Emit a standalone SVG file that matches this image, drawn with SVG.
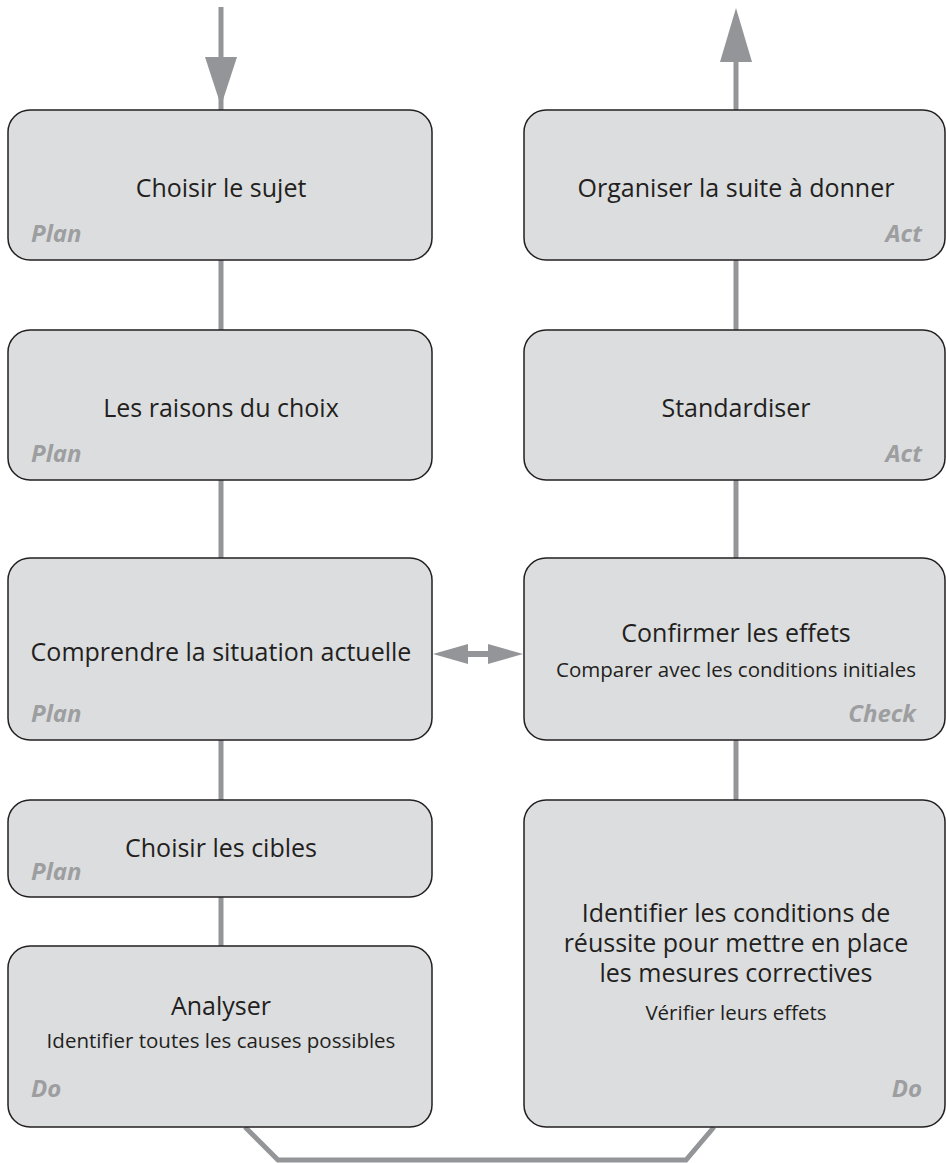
<svg xmlns="http://www.w3.org/2000/svg" width="946" height="1163" viewBox="0 0 946 1163">
<style>
.box{fill:#dcdddf;stroke:#231f20;stroke-width:1.5}
.t{font-family:"Open Sans","Liberation Sans",sans-serif;font-size:25px;fill:#231f20;text-anchor:middle}
.s{font-family:"Open Sans","Liberation Sans",sans-serif;font-size:20.5px;fill:#231f20;text-anchor:middle}
.p{font-family:"Open Sans","Liberation Sans",sans-serif;font-size:24px;font-weight:bold;font-style:italic;fill:#9d9ea0}
.r{text-anchor:end}
.ln{stroke:#939598;stroke-width:5;fill:none}
.ah{fill:#939598}
</style>
<g id="connectors">
<line class="ln" x1="221" y1="7" x2="221" y2="110"/>
<polygon class="ah" points="205,57 237,57 221,106"/>
<line class="ln" x1="221" y1="260" x2="221" y2="330"/>
<line class="ln" x1="221" y1="480" x2="221" y2="558"/>
<line class="ln" x1="221" y1="740" x2="221" y2="800"/>
<line class="ln" x1="221" y1="897" x2="221" y2="946"/>
<polyline class="ln" points="245,1127 278,1160 686,1160 714,1127"/>
<line class="ln" x1="736" y1="800" x2="736" y2="740"/>
<line class="ln" x1="736" y1="558" x2="736" y2="480"/>
<line class="ln" x1="736" y1="330" x2="736" y2="260"/>
<line class="ln" x1="736" y1="110" x2="736" y2="55"/>
<polygon class="ah" points="720,62 752,62 736,8"/>
<line class="ln" x1="466" y1="654" x2="490" y2="654" style="stroke-width:6"/>
<polygon class="ah" points="433,654 468,644 468,664"/>
<polygon class="ah" points="523,654 488,644 488,664"/>
</g>
<g id="n1"><rect class="box" x="8" y="110" width="424" height="150" rx="22"/><text class="t" x="221" y="197">Choisir le sujet</text><text class="p" x="31" y="242">Plan</text></g>
<g id="n2"><rect class="box" x="8" y="330" width="424" height="150" rx="22"/><text class="t" x="221" y="417">Les raisons du choix</text><text class="p" x="31" y="462">Plan</text></g>
<g id="n3"><rect class="box" x="8" y="558" width="424" height="182" rx="22"/><text class="t" x="221" y="661">Comprendre la situation actuelle</text><text class="p" x="31" y="722">Plan</text></g>
<g id="n4"><rect class="box" x="8" y="800" width="424" height="97" rx="22"/><text class="t" x="221" y="857">Choisir les cibles</text><text class="p" x="31" y="880">Plan</text></g>
<g id="n5"><rect class="box" x="8" y="946" width="424" height="181" rx="22"/><text class="t" x="221" y="1015">Analyser</text><text class="s" x="221" y="1048">Identifier toutes les causes possibles</text><text class="p" x="31" y="1097">Do</text></g>
<g id="n6"><rect class="box" x="524" y="110" width="421" height="150" rx="22"/><text class="t" x="736" y="197">Organiser la suite à donner</text><text class="p r" x="922" y="242">Act</text></g>
<g id="n7"><rect class="box" x="524" y="330" width="421" height="150" rx="22"/><text class="t" x="736" y="417">Standardiser</text><text class="p r" x="922" y="462">Act</text></g>
<g id="n8"><rect class="box" x="524" y="558" width="421" height="182" rx="22"/><text class="t" x="736" y="642">Confirmer les effets</text><text class="s" x="736" y="677">Comparer avec les conditions initiales</text><text class="p r" x="916" y="722">Check</text></g>
<g id="n9"><rect class="box" x="524" y="800" width="421" height="327" rx="22"/><text class="t" x="736" y="922">Identifier les conditions de</text><text class="t" x="736" y="952">réussite pour mettre en place</text><text class="t" x="736" y="982">les mesures correctives</text><text class="s" x="736" y="1020">Vérifier leurs effets</text><text class="p r" x="922" y="1097">Do</text></g>
</svg>
